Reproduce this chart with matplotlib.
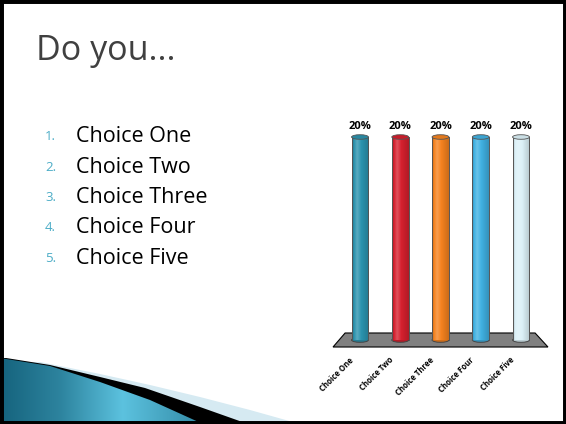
import numpy as np
import matplotlib
matplotlib.use("Agg")
import matplotlib.pyplot as plt
from matplotlib.patches import Polygon, Ellipse, Rectangle
from matplotlib.colors import to_rgb

# data
choices = ["Choice One", "Choice Two", "Choice Three", "Choice Four", "Choice Five"]
percent = [20, 20, 20, 20, 20]
bar_colors = ["#2b93ae", "#d6202e", "#f5821f", "#40b1e2", "#dcf1f8"]
title = "Do you..."
list_color = "#4bacc6"

W, H = 566, 424
fig = plt.figure(figsize=(W / 100, H / 100), dpi=100)
fig.patch.set_facecolor("white")


def px_rect(x0, y0, x1, y1):
    # pixel box (top-left origin) -> figure fraction rect
    return [x0 / W, 1 - y1 / H, (x1 - x0) / W, (y1 - y0) / H]


# ---- background layer in pixel coords (swoosh at bottom left) ----
bg = fig.add_axes([0, 0, 1, 1])
bg.axis("off")

light_edge = [(40, 362), (70, 368), (100, 374), (150, 385), (200, 397), (250, 410), (300, 424)]
black_edge = [(6, 358), (50, 365), (100, 377), (145, 388), (200, 407), (248, 424)]
teal_edge = [(0, 358), (50, 366), (100, 382), (150, 400), (203, 424)]


def wedge(edge):
    return edge + [(0, H), (0, edge[0][1])]


bg.add_patch(Polygon(wedge(light_edge), closed=True, fc="#d6eaf2", ec="none"))
bg.add_patch(Polygon(wedge(black_edge), closed=True, fc="black", ec="none"))
teal = Polygon(wedge(teal_edge), closed=True, fc="none", ec="none")
bg.add_patch(teal)
gx = np.linspace(0, 1, 200)
shade = np.interp(gx, [0, 0.3, 0.6, 0.8, 1], [0.0, 0.35, 1.0, 0.7, 0.4])
c0, c1 = np.array(to_rgb("#15637d")), np.array(to_rgb("#5cc2df"))
grad = c0[None, None, :] + (c1 - c0)[None, None, :] * shade[None, :, None]
im = bg.imshow(grad, extent=(0, 205, H, 356), aspect="auto", zorder=1)
im.set_clip_path(teal)
bg.set_xlim(0, W)
bg.set_ylim(H, 0)

# ---- title and list ----
fig.text(36 / W, 1 - 51 / H, title, fontsize=24.5, color="#404040",
         family="Open Sans", va="center", ha="left")
for i, c in enumerate(choices):
    y = 1 - (137 + i * 30.3) / H
    fig.text(45 / W, y, f"{i + 1}.", fontsize=9.5, color=list_color,
             family="Open Sans", va="center")
    fig.text(76 / W, y, c, fontsize=15.5, color="black",
             family="Open Sans", va="center")

# ---- 3D cylinder chart ----
x_unit = 40.25   # px per category
y_unit = 10.15   # px per percent, 0 -> 340px, 20 -> 137px
ax = fig.add_axes(px_rect(360 - x_unit, 340 - 23 * y_unit, 360 + 5 * x_unit, 340 + 3 * y_unit))
ax.axis("off")

xs = np.arange(len(choices))
floor = Polygon([(-0.67, -0.69), (-0.37, 0.69), (4.35, 0.69), (4.67, -0.69)],
                closed=True, fc="#808080", ec="black", lw=0.8, zorder=1)
ax.add_patch(floor)

bw = 0.42
eh = 0.45
t = np.linspace(0, 1, 60)
light = np.interp(t, [0, 0.12, 0.3, 0.55, 1], [-0.3, 0.0, 0.22, 0.0, -0.25])
for x, v, col in zip(xs, percent, bar_colors):
    base = np.array(to_rgb(col))
    rows = []
    for l in light:
        if l >= 0:
            rows.append(base + (1 - base) * l)
        else:
            rows.append(base * (1 + l * 0.7))
    g = np.array(rows)[None, :, :]
    ax.imshow(g, extent=(x - bw / 2, x + bw / 2, 0, v), aspect="auto", zorder=3)
    ax.add_patch(Ellipse((x, 0), bw, eh, fc=tuple(base * 0.85), ec="#444444", lw=0.7, zorder=2))
    ax.plot([x - bw / 2, x - bw / 2], [0, v], color="#555555", lw=0.7, zorder=4)
    ax.plot([x + bw / 2, x + bw / 2], [0, v], color="#555555", lw=0.7, zorder=4)
    ax.add_patch(Ellipse((x, v), bw, eh, fc=tuple(base * 0.92), ec="#555555", lw=0.6, zorder=5))
    ax.text(x, v + 0.45, f"{v}%", ha="center", va="bottom", fontsize=8,
            fontweight="bold", family="Open Sans", color="black")
    ax.text(x - 0.2, -1.85, choices[x], rotation=45, rotation_mode="anchor",
            ha="right", va="center", fontsize=5.6, fontweight="bold",
            family="Open Sans", color="black")

ax.set_xlim(-1, 5)
ax.set_ylim(-3, 23)

# slide frame
fig.patches.append(Rectangle((0, 0), 1, 1, fill=False, lw=5, ec="black",
                             transform=fig.transFigure, zorder=10))

fig.savefig("out.png", dpi=100)
